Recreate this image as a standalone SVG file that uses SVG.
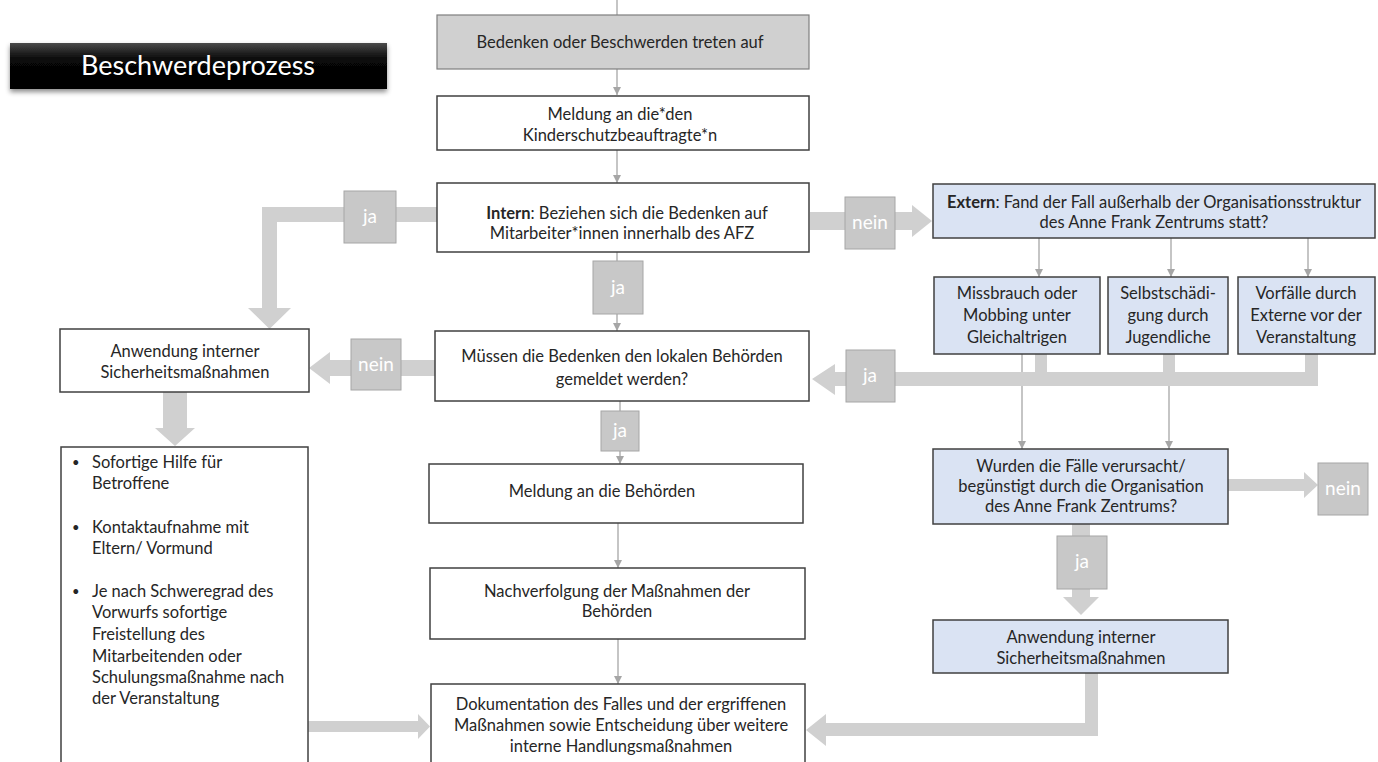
<svg xmlns="http://www.w3.org/2000/svg" width="1378" height="762" viewBox="0 0 1378 762">
<defs>
  <linearGradient id="titleGrad" x1="0" y1="0" x2="0" y2="1">
    <stop offset="0" stop-color="#4a4a4a"/>
    <stop offset="0.35" stop-color="#080808"/>
    <stop offset="1" stop-color="#000000"/>
  </linearGradient>
  <filter id="shadow" x="-5%" y="-20%" width="110%" height="160%">
    <feDropShadow dx="0" dy="3" stdDeviation="2.5" flood-color="#000" flood-opacity="0.45"/>
  </filter>
  <marker id="tip" viewBox="0 0 10 10" refX="10" refY="5" markerWidth="8" markerHeight="8" markerUnits="userSpaceOnUse" orient="auto">
    <path d="M0,0 L10,5 L0,10 Z" fill="#a6a6a6"/>
  </marker>
</defs>
<style>
  text { font-family: Lato, "Open Sans", "Liberation Sans", sans-serif; font-size: 16.5px; fill: #262626; }
  .c { text-anchor: middle; }
  .box { fill: #ffffff; stroke: #404040; stroke-width: 1.5; }
  .start { fill: #d0d0d0; stroke: #7f7f7f; stroke-width: 1.2; }
  .blue { fill: #dae3f3; stroke: #404040; stroke-width: 1.5; }
  .lbl { fill: #c8c8c8; stroke: #a6a6a6; stroke-width: 1; }
  .lt { fill: #ffffff; font-size: 19px; text-anchor: middle; }
  .thin { stroke: #a6a6a6; stroke-width: 1.3; fill: none; }
  .thick { fill: #d0d0d0; stroke: none; }
  .title { fill: #ffffff; font-size: 27px; text-anchor: middle; }
  .b { font-weight: bold; }
  .bul { font-size: 13px; }
</style>

<g id="connectors">
  <line class="thin" x1="617" y1="0" x2="617" y2="15"/>
  <line class="thin" x1="617" y1="69" x2="617" y2="95" marker-end="url(#tip)"/>
  <line class="thin" x1="617" y1="150" x2="617" y2="183" marker-end="url(#tip)"/>
  <line class="thin" x1="617" y1="252" x2="617" y2="331" marker-end="url(#tip)"/>
  <line class="thin" x1="620" y1="401" x2="620" y2="464" marker-end="url(#tip)"/>
  <line class="thin" x1="618" y1="523" x2="618" y2="568" marker-end="url(#tip)"/>
  <line class="thin" x1="618" y1="639" x2="618" y2="684" marker-end="url(#tip)"/>
  <line class="thin" x1="1039" y1="238" x2="1039" y2="277" marker-end="url(#tip)"/>
  <line class="thin" x1="1171" y1="238" x2="1171" y2="277" marker-end="url(#tip)"/>
  <line class="thin" x1="1308" y1="238" x2="1308" y2="277" marker-end="url(#tip)"/>
  <line class="thin" x1="1022" y1="354" x2="1022" y2="449" marker-end="url(#tip)"/>
  <line class="thin" x1="1169" y1="354" x2="1169" y2="449" marker-end="url(#tip)"/>

  <!-- Intern ja -> Anwendung (left) -->
  <path class="thick" d="M437,207 L262,207 L262,308 L248,308 L269.5,329 L291,308 L277,308 L277,222 L437,222 Z"/>
  <!-- Intern nein -> Extern -->
  <path class="thick" d="M810,212 L912,212 L912,205 L932,221 L912,237 L912,230 L810,230 Z"/>
  <!-- Müssen nein -> Anwendung -->
  <path class="thick" d="M435,360 L330,360 L330,352 L309,368 L330,384 L330,376 L435,376 Z"/>
  <!-- Anwendung -> list -->
  <path class="thick" d="M163,392 L187,392 L187,428 L195,428 L175,446 L155,428 L163,428 Z"/>
  <!-- list -> Dokumentation -->
  <path class="thick" d="M308,721 L418,721 L418,714 L430,726.5 L418,739 L418,732 L308,732 Z"/>
  <!-- Extern cases ja -> Müssen -->
  <path class="thick" d="M1035,354 L1047,354 L1047,372 L1163,372 L1163,354 L1175,354 L1175,372 L1305,372 L1305,354 L1318,354 L1318,386 L835,386 L835,395 L812,379 L835,364 L835,372 L1035,372 Z"/>
  <!-- Wurden nein -->
  <path class="thick" d="M1228,479 L1304,479 L1304,472 L1318,485 L1304,498 L1304,491 L1228,491 Z"/>
  <!-- Wurden ja -> Anwendung right -->
  <path class="thick" d="M1072,524 L1090,524 L1090,597 L1099,597 L1081,615 L1063,597 L1072,597 Z"/>
  <!-- Anwendung right -> Dokumentation -->
  <path class="thick" d="M1085,673 L1098,673 L1098,736 L826,736 L826,746 L806,730 L826,714 L826,723 L1085,723 Z"/>
</g>

<g id="title">
  <rect x="10" y="43" width="377" height="46" fill="url(#titleGrad)" filter="url(#shadow)"/>
  <text class="title" x="198" y="75">Beschwerdeprozess</text>
</g>

<g id="n-start">
  <rect class="start" x="437" y="15" width="372" height="54"/>
  <text class="c" x="620" y="48">Bedenken oder Beschwerden treten auf</text>
</g>

<g id="n-meldung">
  <rect class="box" x="437" y="96" width="372" height="54" stroke="#7f7f7f"/>
  <text class="c" x="620" y="120">Meldung an die*den</text>
  <text class="c" x="620" y="141">Kinderschutzbeauftragte*n</text>
</g>

<g id="n-intern">
  <rect class="box" x="437" y="183" width="372" height="69" stroke="#595959"/>
  <text class="c" x="627" y="219"><tspan class="b">Intern</tspan>: Beziehen sich die Bedenken auf</text>
  <text class="c" x="622" y="239">Mitarbeiter*innen innerhalb des AFZ</text>
</g>

<g id="n-extern">
  <rect class="blue" x="933" y="184" width="442" height="54"/>
  <text class="c" x="1154" y="208"><tspan class="b">Extern</tspan>: Fand der Fall außerhalb der Organisationsstruktur</text>
  <text class="c" x="1154" y="228">des Anne Frank Zentrums statt?</text>
</g>

<g id="n-missbrauch">
  <rect class="blue" x="934" y="277" width="166" height="77"/>
  <text class="c" x="1017" y="299">Missbrauch oder</text>
  <text class="c" x="1017" y="321">Mobbing unter</text>
  <text class="c" x="1017" y="343">Gleichaltrigen</text>
</g>

<g id="n-selbst">
  <rect class="blue" x="1108" y="277" width="120" height="77"/>
  <text class="c" x="1168" y="299">Selbstschädi-</text>
  <text class="c" x="1168" y="321">gung durch</text>
  <text class="c" x="1168" y="343">Jugendliche</text>
</g>

<g id="n-vorfaelle">
  <rect class="blue" x="1238" y="277" width="137" height="77"/>
  <text class="c" x="1306" y="299">Vorfälle durch</text>
  <text class="c" x="1306" y="321">Externe vor der</text>
  <text class="c" x="1306" y="343">Veranstaltung</text>
</g>

<g id="n-anwendung-left">
  <rect class="box" x="60" y="329" width="249" height="63"/>
  <text class="c" x="185" y="357">Anwendung interner</text>
  <text class="c" x="185" y="378">Sicherheitsmaßnahmen</text>
</g>

<g id="n-muessen">
  <rect class="box" x="435" y="331" width="374" height="70"/>
  <text class="c" x="622" y="362">Müssen die Bedenken den lokalen Behörden</text>
  <text class="c" x="622" y="385">gemeldet werden?</text>
</g>

<g id="n-liste">
  <rect class="box" x="61" y="447" width="247" height="320"/>
  <g>
    <text class="bul" x="72" y="467">•</text><text x="92" y="468">Sofortige Hilfe für</text>
    <text x="92" y="489">Betroffene</text>
    <text class="bul" x="72" y="532">•</text><text x="92" y="533">Kontaktaufnahme mit</text>
    <text x="92" y="554">Eltern/ Vormund</text>
    <text class="bul" x="72" y="596">•</text><text x="92" y="597">Je nach Schweregrad des</text>
    <text x="92" y="618">Vorwurfs sofortige</text>
    <text x="92" y="640">Freistellung des</text>
    <text x="92" y="662">Mitarbeitenden oder</text>
    <text x="92" y="683">Schulungsmaßnahme nach</text>
    <text x="92" y="704">der Veranstaltung</text>
  </g>
</g>

<g id="n-behoerden">
  <rect class="box" x="429" y="464" width="374" height="59"/>
  <text class="c" x="602" y="497">Meldung an die Behörden</text>
</g>

<g id="n-wurden">
  <rect class="blue" x="933" y="449" width="295" height="75"/>
  <text class="c" x="1081" y="472">Wurden die Fälle verursacht/</text>
  <text class="c" x="1081" y="492">begünstigt durch die Organisation</text>
  <text class="c" x="1081" y="512">des Anne Frank Zentrums?</text>
</g>

<g id="n-nachverfolgung">
  <rect class="box" x="430" y="568" width="375" height="71"/>
  <text class="c" x="617" y="597">Nachverfolgung der Maßnahmen der</text>
  <text class="c" x="617" y="617">Behörden</text>
</g>

<g id="n-anwendung-right">
  <rect class="blue" x="933" y="620" width="295" height="53"/>
  <text class="c" x="1081" y="643">Anwendung interner</text>
  <text class="c" x="1081" y="664">Sicherheitsmaßnahmen</text>
</g>

<g id="n-doku">
  <rect class="box" x="431" y="684" width="374" height="90"/>
  <text class="c" x="621" y="710">Dokumentation des Falles und der ergriffenen</text>
  <text class="c" x="621" y="731">Maßnahmen sowie Entscheidung über weitere</text>
  <text class="c" x="621" y="752">interne Handlungsmaßnahmen</text>
</g>

<g id="labels">
  <rect class="lbl" x="344" y="191" width="52" height="52"/><text class="lt" x="370" y="223">ja</text>
  <rect class="lbl" x="593" y="261" width="50" height="53"/><text class="lt" x="618" y="294">ja</text>
  <rect class="lbl" x="845" y="197" width="50" height="52"/><text class="lt" x="870" y="229">nein</text>
  <rect class="lbl" x="351" y="339" width="50" height="51"/><text class="lt" x="376" y="371">nein</text>
  <rect class="lbl" x="846" y="350" width="49" height="52"/><text class="lt" x="870" y="382">ja</text>
  <rect class="lbl" x="601" y="411" width="38" height="40"/><text class="lt" x="620" y="437">ja</text>
  <rect class="lbl" x="1318" y="463" width="50" height="52"/><text class="lt" x="1343" y="495">nein</text>
  <rect class="lbl" x="1057" y="536" width="50" height="53"/><text class="lt" x="1082" y="568">ja</text>
</g>
</svg>
